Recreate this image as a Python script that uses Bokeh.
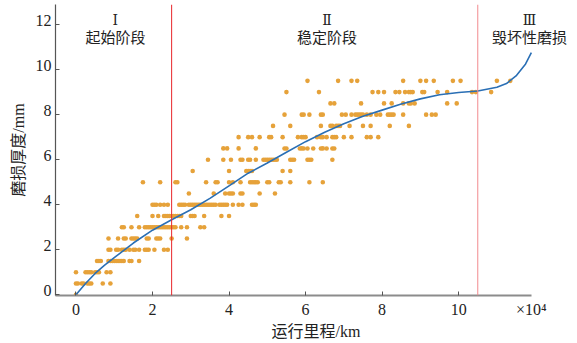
from bokeh.plotting import figure
from bokeh.models import Span, Label, Range1d, ColumnDataSource, LinearAxis, FixedTicker
from bokeh.embed import file_html
from bokeh.resources import INLINE

# ---- fitted curve ----
curve_x = [0, 0.25, 0.5, 0.75, 1.0, 1.5, 2.0, 2.5, 3.0, 3.5, 4.0, 4.5, 5.0, 5.5,
           6.0, 6.5, 7.0, 7.5, 8.0, 8.5, 9.0, 9.5, 10.0, 10.5, 11.0, 11.25, 11.5,
           11.75, 11.9]
curve_y = [0, 0.5, 0.95, 1.32, 1.65, 2.3, 2.87, 3.33, 3.78, 4.28, 4.84, 5.4, 5.85,
           6.33, 6.8, 7.22, 7.6, 7.93, 8.2, 8.47, 8.7, 8.88, 8.98, 9.05, 9.22,
           9.38, 9.72, 10.25, 10.75]

# ---- measured points: mileage (x10^4 km) at each wear level (mm) ----
levels = [0.0, 0.5, 1.0, 1.5, 2.0, 2.5, 3.0, 3.5, 4.0, 4.5, 5.0, 5.5, 6.0, 6.5,
          7.0, 7.5, 8.0, 8.5, 9.0, 9.5]
lvl_0_0 = [0.0]
lvl_0_5 = [0.0, 0.05, 0.15, 0.2, 0.3, 0.35, 0.4, 0.7, 0.9]
lvl_1_0 = [0.0, 0.25, 0.3, 0.35, 0.4, 0.5, 0.55, 0.6, 0.8, 0.9]
lvl_1_5 = [0.55, 0.6, 0.65, 0.85, 0.9, 0.95, 1.0, 1.05, 1.1, 1.15, 1.2, 1.25,
           1.4, 1.45, 1.65]
lvl_2_0 = [0.85, 0.9, 1.05, 1.1, 1.2, 1.25, 1.3, 1.4, 1.5, 1.55, 1.65, 1.8, 1.85,
           1.9, 2.05, 2.3, 2.4]
lvl_2_5 = [0.85, 1.1, 1.25, 1.3, 1.45, 1.5, 1.55, 1.6, 1.85, 1.9, 2.1, 2.15, 2.2,
           2.5, 2.9]
lvl_3_0 = [1.2, 1.25, 1.45, 1.65, 1.8, 1.85, 1.9, 1.95, 2.0, 2.05, 2.1, 2.15, 2.2,
           2.25, 2.3, 2.35, 2.4, 2.45, 2.5, 2.55, 2.6, 2.75, 2.9, 3.25, 3.35]
lvl_3_5 = [1.6, 2.0, 2.15, 2.3, 2.35, 2.4, 2.45, 2.5, 2.55, 2.6, 2.65, 2.7, 2.75,
           3.0, 3.05, 3.1, 3.35, 3.8, 4.0]
lvl_4_0 = [2.0, 2.05, 2.1, 2.2, 2.3, 2.4, 2.7, 2.75, 2.8, 2.85, 2.95, 3.0, 3.05,
           3.1, 3.15, 3.2, 3.25, 3.3, 3.35, 3.4, 3.45, 3.5, 3.55, 3.6, 3.65, 3.75,
           3.8, 3.85, 3.9, 3.95, 4.1, 4.25, 4.35, 4.6, 4.65, 4.7]
lvl_4_5 = [2.95, 3.6, 3.9, 4.0, 4.05, 4.1, 4.3, 4.35, 4.8, 5.2]
lvl_5_0 = [1.75, 2.2, 2.6, 2.65, 3.4, 3.65, 3.7, 4.0, 4.1, 4.3, 4.55, 4.6, 4.65,
           4.7, 4.75, 5.0, 5.05, 5.3, 5.35, 5.6, 6.1, 6.45]
lvl_5_5 = [3.05, 4.0, 4.45, 4.5, 4.55, 4.6, 5.4, 5.6]
lvl_6_0 = [3.45, 3.85, 4.05, 4.3, 4.35, 4.5, 4.55, 4.7, 4.9, 4.95, 5.0, 5.05, 5.1,
           5.15, 5.2, 5.25, 5.6, 5.65, 5.7, 6.05, 6.1, 6.15, 6.7]
lvl_6_5 = [3.85, 3.95, 4.25, 4.7, 5.45, 5.5, 5.85, 5.9, 5.95, 6.05, 6.2, 6.4, 6.45,
           6.55, 6.7, 6.75]
lvl_7_0 = [4.25, 4.5, 4.6, 4.8, 5.05, 5.1, 5.4, 5.8, 5.9, 5.95, 6.0, 6.3, 6.4,
           6.45, 6.55, 6.7, 6.75, 6.8, 7.0, 7.2, 7.6, 7.7, 7.9]
lvl_7_5 = [5.15, 5.6, 6.4, 6.65, 6.7, 6.8, 6.85, 6.9, 7.15, 7.5, 7.7, 8.2, 8.7]
lvl_8_0 = [5.45, 5.9, 5.95, 6.1, 6.4, 6.45, 6.95, 7.05, 7.2, 7.3, 7.35, 7.4, 7.45,
           7.5, 7.6, 7.7, 7.85, 7.95, 8.15, 8.2, 8.25, 8.3, 8.55, 9.15, 9.3, 9.4]
lvl_8_5 = [6.65, 6.75, 7.45, 8.05, 8.25, 8.55, 8.7, 8.75, 8.85, 9.7, 9.95]
lvl_9_0 = [5.5, 6.35, 7.75, 7.9, 8.05, 8.35, 8.45, 8.6, 8.7, 8.75, 8.8, 9.05, 9.1,
           9.45, 9.7, 10.35, 10.45, 10.85]
lvl_9_5 = [6.05, 6.85, 7.2, 7.35, 8.55, 9.0, 9.15, 9.35, 9.85, 10.05, 11.0, 11.35]

rows = [lvl_0_0, lvl_0_5, lvl_1_0, lvl_1_5, lvl_2_0, lvl_2_5, lvl_3_0, lvl_3_5,
        lvl_4_0, lvl_4_5, lvl_5_0, lvl_5_5, lvl_6_0, lvl_6_5, lvl_7_0, lvl_7_5,
        lvl_8_0, lvl_8_5, lvl_9_0, lvl_9_5]

stage_bounds = [2.5, 10.5]
stage_nums = ["Ⅰ", "Ⅱ", "Ⅲ"]
stage_names = ["起始阶段", "稳定阶段", "毁坏性磨损"]
x_ticks = [0, 2, 4, 6, 8, 10]
y_ticks = [0, 2, 4, 6, 8, 10, 12]
x_scale_note = "×10⁴"

pts_x, pts_y = [], []
for lv, row in zip(levels, rows):
    pts_x += row
    pts_y += [lv] * len(row)

SERIF = "Liberation Serif, Noto Sans CJK SC"
NUMF = "DejaVu Serif, Liberation Serif, Noto Sans CJK SC"
TXT = "#222222"

X0, X1 = -0.535, 13.08
X_END = 11.9
p = figure(width=576, height=342, output_backend="svg", toolbar_location=None,
           x_range=Range1d(X0, X1), y_range=Range1d(-0.03, 12.89),
           min_border_left=55, min_border_right=0, min_border_top=4,
           min_border_bottom=40)
p.outline_line_color = None
p.grid.visible = False
p.background_fill_color = "white"

p.scatter(x="x", y="y", source=ColumnDataSource(dict(x=pts_x, y=pts_y)),
          size=4.6, fill_color="#e6a23a", line_color=None)
p.line(curve_x, curve_y, line_color="#2a6fb5", line_width=1.6)

p.add_layout(Span(location=stage_bounds[0], dimension="height",
                  line_color="#e8262b", line_width=1))
p.add_layout(Span(location=stage_bounds[1], dimension="height",
                  line_color="#f28a8e", line_width=1))

label_x = [1.03, 6.56, 11.85]
for lx, num, name in zip(label_x, stage_nums, stage_names):
    p.add_layout(Label(x=lx, y=12.2, text=num, text_align="center",
                       text_baseline="middle", text_font=NUMF,
                       text_font_size="14px", text_color=TXT))
    p.add_layout(Label(x=lx, y=11.42, text=name, text_align="center",
                       text_baseline="middle", text_font=SERIF,
                       text_font_size="15px", text_color=TXT))

def style_axis(ax):
    ax.major_tick_in = 4
    ax.major_tick_out = 0
    ax.minor_tick_line_color = None
    ax.major_label_text_font = SERIF
    ax.major_label_text_font_size = "16px"
    ax.major_label_text_color = TXT
    ax.axis_label_text_font = SERIF
    ax.axis_label_text_font_size = "16px"
    ax.axis_label_text_font_style = "normal"
    ax.axis_label_text_color = TXT
    ax.major_label_standoff = 3

# ---- main axes: line + inward ticks only ----
xa = p.xaxis[0]
ya = p.yaxis[0]
style_axis(xa)
style_axis(ya)
xa.ticker = x_ticks
xa.bounds = (X0, X_END)
xa.axis_line_color = "#8c8c8c"
xa.axis_line_width = 2
xa.major_tick_line_color = "#555555"
xa.major_label_text_color = None
ya.ticker = y_ticks
ya.axis_line_color = "#555555"
ya.axis_line_width = 1.2
ya.major_tick_line_color = "#555555"
ya.major_label_text_color = None

# ---- label axes stacked outside: numbers, multiplier and titles ----
xlab_ticks = x_ticks + [X_END]
xlab_text = {t: str(t) for t in x_ticks}
xlab_text[X_END] = x_scale_note
xlab = LinearAxis(ticker=FixedTicker(ticks=xlab_ticks),
                  major_label_overrides=xlab_text,
                  axis_line_color=None, major_tick_line_color=None)
style_axis(xlab)
xlab.major_label_standoff = 5
xlab.axis_label = "运行里程/km"
xlab.axis_label_standoff = 2
p.add_layout(xlab, "below")

lift = 0.2   # numbers sit just above their ticks, as in the source figure
ylab_ticks = [t + lift for t in y_ticks]
ylab = LinearAxis(ticker=FixedTicker(ticks=ylab_ticks),
                  major_label_overrides={pp: str(t) for pp, t in zip(ylab_ticks, y_ticks)},
                  axis_line_color=None, major_tick_line_color=None)
style_axis(ylab)
ylab.major_label_standoff = 4
ylab.axis_label = "磨损厚度/mm"
ylab.axis_label_standoff = 6
p.add_layout(ylab, "left")

open("out.html", "w").write(file_html(p, INLINE))
